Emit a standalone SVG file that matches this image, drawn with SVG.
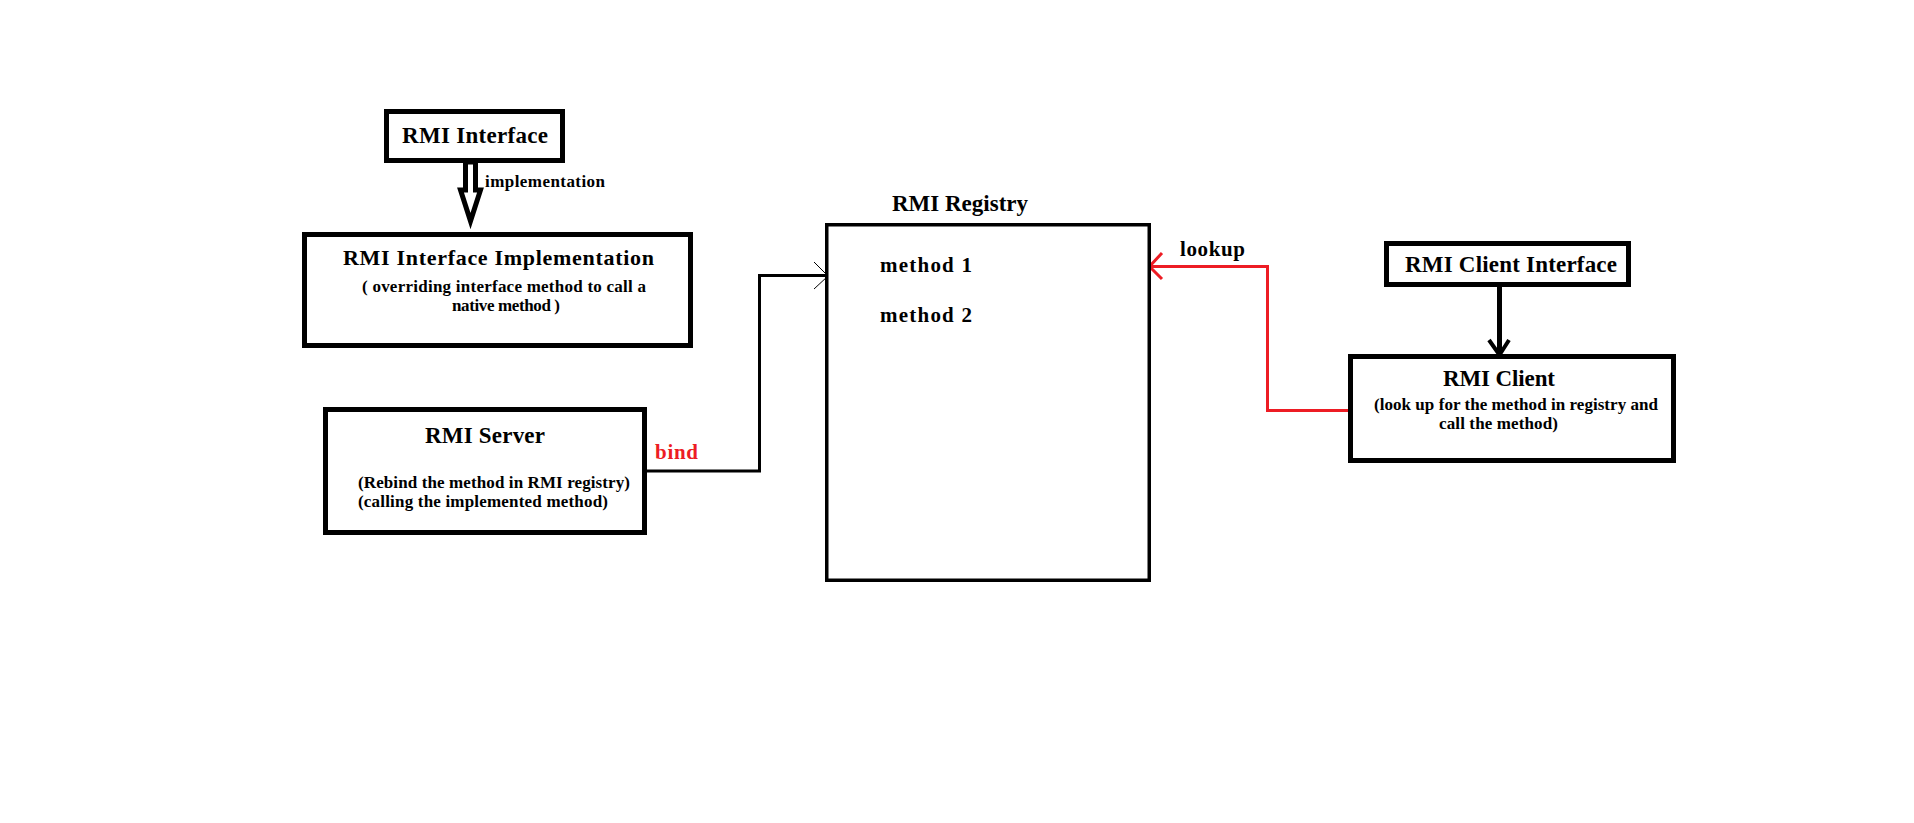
<svg xmlns="http://www.w3.org/2000/svg" width="1914" height="823" viewBox="0 0 1914 823">
<style>
.box{fill:#fff;stroke:#000;stroke-width:5}
.reg{fill:#fff;stroke:#000;stroke-width:3.5}
.t{font-family:"Liberation Serif","Times New Roman",serif;font-weight:bold;fill:#000}
.title{font-size:23px}
.small{font-size:17px}
.red{fill:#ED1C24}
.ln{fill:none;stroke:#000;stroke-width:3}
.rl{fill:none;stroke:#ED1C24;stroke-width:3}
</style>
<rect width="1914" height="823" fill="#fff"/>
<g id="connectors">
<polygon points="465.5,162 465.5,190 460.5,190 470.5,221 480.5,190 475.5,190 475.5,162" fill="#fff" stroke="#000" stroke-width="5" stroke-linejoin="miter"/>
<text class="t" x="485" y="187" font-size="17" textLength="120" lengthAdjust="spacing">implementation</text>
<polyline class="ln" points="647,471 759.5,471 759.5,275.5 827,275.5"/>
<polyline points="814,262 828,276 814,289" fill="none" stroke="#000" stroke-width="1"/>
<text class="t red" x="655" y="459" font-size="21" textLength="43" lengthAdjust="spacing">bind</text>
<polyline class="rl" points="1350,410.5 1267.5,410.5 1267.5,266.5 1151,266.5"/>
<polyline class="rl" points="1162,253 1149.5,266.5 1162,279" stroke-width="3.5"/>
<text class="t" x="1180" y="256" font-size="21" textLength="65" lengthAdjust="spacing">lookup</text>
<line x1="1499.5" y1="287" x2="1499.5" y2="354" stroke="#000" stroke-width="5"/>
<polyline points="1489,340 1499.5,355 1509,340" fill="none" stroke="#000" stroke-width="4"/>
</g>
<g id="rmi-interface">
<rect class="box" x="386.5" y="111.5" width="176" height="49"/>
<text class="t title" x="402" y="143" textLength="146" lengthAdjust="spacing">RMI Interface</text>
</g>
<g id="rmi-interface-implementation">
<rect class="box" x="304.5" y="234.5" width="386" height="111"/>
<text class="t" x="343" y="265" font-size="22" textLength="311" lengthAdjust="spacing">RMI Interface Implementation</text>
<text class="t small" x="362" y="292" textLength="284" lengthAdjust="spacing">( overriding interface method to call a</text>
<text class="t small" x="452" y="311" textLength="108" lengthAdjust="spacing">native method )</text>
</g>
<g id="rmi-server">
<rect class="box" x="325.5" y="409.5" width="319" height="123"/>
<text class="t title" x="425" y="443" textLength="120" lengthAdjust="spacing">RMI Server</text>
<text class="t small" x="358" y="488" textLength="272" lengthAdjust="spacing">(Rebind the method in RMI registry)</text>
<text class="t small" x="358" y="507" textLength="250" lengthAdjust="spacing">(calling the implemented method)</text>
</g>
<g id="rmi-registry">
<text class="t title" x="892" y="211" textLength="136" lengthAdjust="spacing">RMI Registry</text>
<rect class="reg" x="826.75" y="224.75" width="322.5" height="355.5"/>
<text class="t" x="880" y="272" font-size="21" textLength="92" lengthAdjust="spacing">method 1</text>
<text class="t" x="880" y="322" font-size="21" textLength="92" lengthAdjust="spacing">method 2</text>
</g>
<g id="rmi-client-interface">
<rect class="box" x="1386.5" y="243.5" width="242" height="41"/>
<text class="t title" x="1405" y="272" textLength="212" lengthAdjust="spacing">RMI Client Interface</text>
</g>
<g id="rmi-client">
<rect class="box" x="1350.5" y="356.5" width="323" height="104"/>
<text class="t title" x="1443" y="386" textLength="112" lengthAdjust="spacing">RMI Client</text>
<text class="t small" x="1374" y="410" textLength="284" lengthAdjust="spacing">(look up for the method in registry and</text>
<text class="t small" x="1439" y="429" textLength="119" lengthAdjust="spacing">call the method)</text>
</g>
</svg>
